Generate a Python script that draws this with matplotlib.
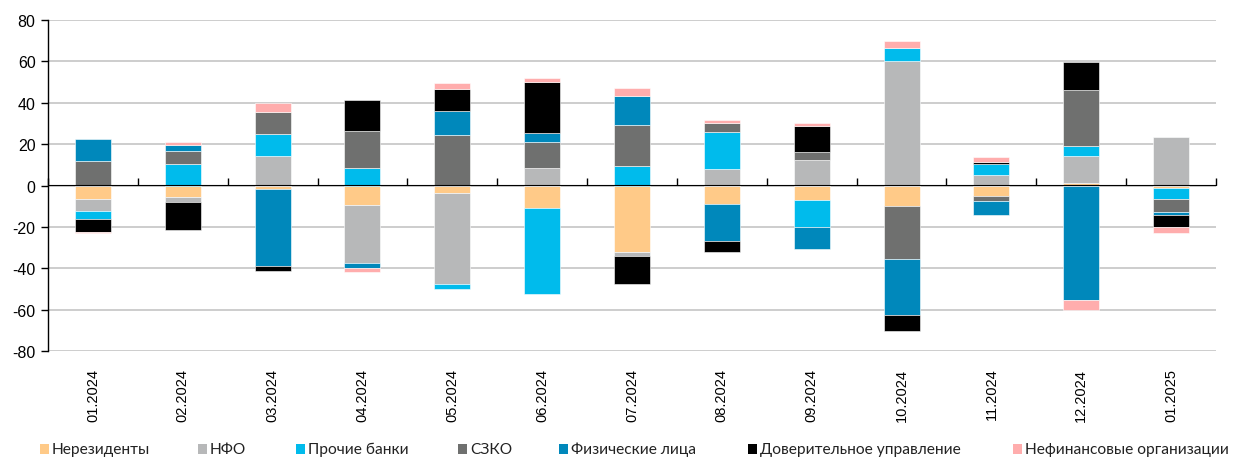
import numpy as np
import matplotlib.pyplot as plt
from matplotlib.patches import Rectangle

plt.rcParams['axes.unicode_minus'] = False

months = ['01.2024', '02.2024', '03.2024', '04.2024', '05.2024', '06.2024', '07.2024',
          '08.2024', '09.2024', '10.2024', '11.2024', '12.2024', '01.2025']

nonresidents = [-6.3, -5.8, -1.9, -9.4, -3.4, -11.1, -32.3, -8.9, -6.8, -10.0, -5.0, 1.1, -1.0]
nfo = [-6.1, -2.1, 14.2, -28.1, -44.2, 8.7, -1.8, 8.2, 12.1, 60.0, 5.0, 13.2, 23.5]
other_banks = [-3.6, 10.3, 10.6, 8.7, -2.4, -41.5, 9.5, 17.6, -13.4, 6.3, 5.6, 4.8, -5.6]
szko = [11.8, 6.5, 10.5, 17.7, 24.2, 12.4, 19.8, 4.4, 3.9, -25.3, -2.6, 26.9, -6.1]
individuals = [10.5, 2.7, -36.8, -2.6, 11.8, 4.4, 14.2, -18.1, -10.6, -27.3, -6.9, -55.2, -1.6]
trust_mgmt = [-6.3, -13.4, -2.4, 14.8, 10.8, 24.5, -13.5, -5.2, 12.6, -7.7, 0.7, 13.7, -5.8]
nonfin = [-0.5, 1.3, 4.8, -1.8, 2.7, 1.8, 3.5, 1.6, 1.8, 3.4, 2.7, -5.2, -3.1]

series = [
    ('Нерезиденты', nonresidents, '#FFCA88'),
    ('НФО', nfo, '#B7B8B9'),
    ('Прочие банки', other_banks, '#00BBEC'),
    ('СЗКО', szko, '#6F706F'),
    ('Физические лица', individuals, '#0088BB'),
    ('Доверительное управление', trust_mgmt, '#000000'),
    ('Нефинансовые организации', nonfin, '#FFADAD'),
]

W, H = 1234, 460
fig = plt.figure(figsize=(W / 100, H / 100), dpi=100)
ax = fig.add_axes([48 / W, 1 - 352 / H, (1216 - 48) / W, (352 - 21) / H])

x = np.arange(len(months))
pos_base = np.zeros(len(months))
neg_base = np.zeros(len(months))
for name, vals, color in series:
    v = np.array(vals)
    bottom = np.where(v >= 0, pos_base, neg_base)
    ax.bar(x, v, width=0.4, bottom=bottom, color=color,
           edgecolor='white', linewidth=0.4, zorder=2)
    pos_base += np.where(v >= 0, v, 0)
    neg_base += np.where(v < 0, v, 0)

ax.set_xlim(-0.5, len(months) - 0.5)
ax.set_ylim(-80, 80)
ax.set_yticks(np.arange(-80, 81, 20))
ax.yaxis.grid(True, color='#C9C9C9', linewidth=1.3, zorder=0)
ax.set_axisbelow(True)

for s in ['top', 'right', 'bottom']:
    ax.spines[s].set_visible(False)
ax.spines['left'].set_color('black')
ax.spines['left'].set_linewidth(1.0)
ax.tick_params(axis='y', direction='out', length=5, width=1, pad=4, labelsize=11.5)

ax.set_xticks(x)
ax.set_xticklabels(months, rotation=90, fontsize=10.5)
ax.tick_params(axis='x', length=0, pad=12)
for lbl in ax.get_xticklabels() + ax.get_yticklabels():
    lbl.set_fontfamily(['Liberation Sans', 'DejaVu Sans'])

# zero line with category boundary ticks
zero = ax.secondary_xaxis(0.5)
zero.set_xticks(np.arange(-0.5, len(months), 1.0))
zero.set_xticklabels([])
zero.tick_params(axis='x', direction='out', length=5, width=1, color='black')
zero.spines['bottom'].set_linewidth(1.2)
zero.set_zorder(3)

# legend row along the bottom edge
legend_x = [40, 198, 296, 458, 559, 748, 1013]
for (name, _, color), lx in zip(series, legend_x):
    fig.patches.append(Rectangle((lx / W, 1 - 455 / H), 9 / W, 10 / H,
                                 transform=fig.transFigure, facecolor=color,
                                 edgecolor='none'))
    fig.text((lx + 12) / W, 1 - 450 / H, name, ha='left', va='center',
             family=['Lato', 'DejaVu Sans'], size=11.2, color='#222222')

fig.savefig('out.png', dpi=100)
